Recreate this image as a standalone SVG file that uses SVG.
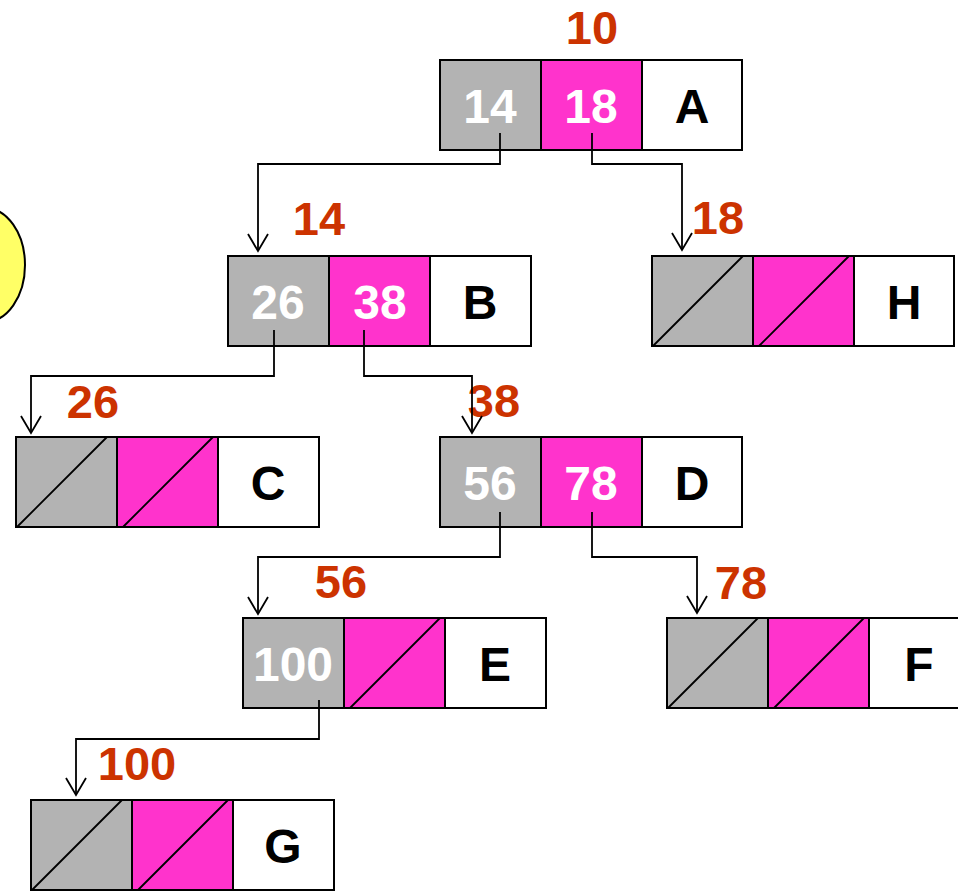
<svg xmlns="http://www.w3.org/2000/svg" width="958" height="891" viewBox="0 0 958 891">
<style>
.g{fill:#B3B3B3;stroke:#000;stroke-width:2}
.m{fill:#FF33CC;stroke:#000;stroke-width:2}
.w{fill:#FFF;stroke:#000;stroke-width:2}
.d{stroke:#000;stroke-width:1.8;fill:none}
.v{font-family:"Liberation Sans",Arial,sans-serif;font-weight:bold;font-size:48px;fill:#FFF;text-anchor:middle}
.k{font-family:"Liberation Sans",Arial,sans-serif;font-weight:bold;font-size:48px;fill:#000;text-anchor:middle}
.l{font-family:"Liberation Sans",Arial,sans-serif;font-weight:bold;font-size:47px;fill:#CC3300;text-anchor:middle}
.c{stroke:#000;stroke-width:1.8;fill:none;marker-end:url(#arr)}
</style>
<defs>
<marker id="arr" markerUnits="userSpaceOnUse" markerWidth="22" markerHeight="24" viewBox="-19 -12 22 24" refX="0" refY="0" orient="auto" overflow="visible">
<path d="M-17,-10 L0,0 L-17,10" fill="none" stroke="#000" stroke-width="1.8"/>
</marker>
</defs>
<ellipse id="sun" cx="-15" cy="265" rx="40" ry="57" fill="#FFFF66" stroke="#000" stroke-width="2"/>
<g id="A">
<rect class="g" x="440" y="60" width="101" height="90"/><rect class="m" x="541" y="60" width="101" height="90"/><rect class="w" x="642" y="60" width="100" height="90"/>
<text class="v" x="490" y="123">14</text><text class="v" x="591" y="123">18</text><text class="k" x="692" y="123">A</text>
<text class="l" x="592" y="44">10</text>
</g>
<g id="B">
<rect class="g" x="228" y="256" width="101" height="90"/><rect class="m" x="329" y="256" width="101" height="90"/><rect class="w" x="430" y="256" width="101" height="90"/>
<text class="v" x="278" y="319">26</text><text class="v" x="380" y="319">38</text><text class="k" x="480" y="319">B</text>
<text class="l" x="319" y="235">14</text>
</g>
<g id="H">
<rect class="g" x="652" y="256" width="101" height="90"/><rect class="m" x="753" y="256" width="101" height="90"/><rect class="w" x="854" y="256" width="100" height="90"/>
<path class="d" d="M653,346 L743,256 M759,346 L849,256"/>
<text class="k" x="904" y="319">H</text>
<text class="l" x="718" y="234">18</text>
</g>
<g id="C">
<rect class="g" x="16" y="437" width="101" height="90"/><rect class="m" x="117" y="437" width="101" height="90"/><rect class="w" x="218" y="437" width="101" height="90"/>
<path class="d" d="M17,527 L107,437 M123,527 L213,437"/>
<text class="k" x="268" y="500">C</text>
<text class="l" x="93" y="418">26</text>
</g>
<g id="D">
<rect class="g" x="440" y="437" width="101" height="90"/><rect class="m" x="541" y="437" width="101" height="90"/><rect class="w" x="642" y="437" width="100" height="90"/>
<text class="v" x="490" y="500">56</text><text class="v" x="591" y="500">78</text><text class="k" x="692" y="500">D</text>
<text class="l" x="494" y="417">38</text>
</g>
<g id="E">
<rect class="g" x="243" y="618" width="101" height="90"/><rect class="m" x="344" y="618" width="101" height="90"/><rect class="w" x="445" y="618" width="101" height="90"/>
<path class="d" d="M350,708 L440,618"/>
<text class="v" x="293" y="681">100</text><text class="k" x="495" y="681">E</text>
<text class="l" x="341" y="598">56</text>
</g>
<g id="F">
<rect class="g" x="667" y="618" width="101" height="90"/><rect class="m" x="768" y="618" width="101" height="90"/><rect class="w" x="869" y="618" width="101" height="90"/>
<path class="d" d="M668,708 L758,618 M774,708 L864,618"/>
<text class="k" x="919" y="681">F</text>
<text class="l" x="741" y="599">78</text>
</g>
<g id="G">
<rect class="g" x="31" y="800" width="101" height="90"/><rect class="m" x="132" y="800" width="101" height="90"/><rect class="w" x="233" y="800" width="101" height="90"/>
<path class="d" d="M32,890 L122,800 M138,890 L228,800"/>
<text class="k" x="283" y="863">G</text>
<text class="l" x="137" y="780">100</text>
</g>
<g id="connectors">
<path class="c" d="M500,133 V164 H258 V251"/>
<path class="c" d="M592,133 V164 H682 V250"/>
<path class="c" d="M274,330 V376 H31 V433"/>
<path class="c" d="M364,330 V376 H472 V433"/>
<path class="c" d="M500,512 V557 H258 V614"/>
<path class="c" d="M592,512 V557 H697 V613"/>
<path class="c" d="M319,700 V739 H76 V795"/>
</g>
</svg>
